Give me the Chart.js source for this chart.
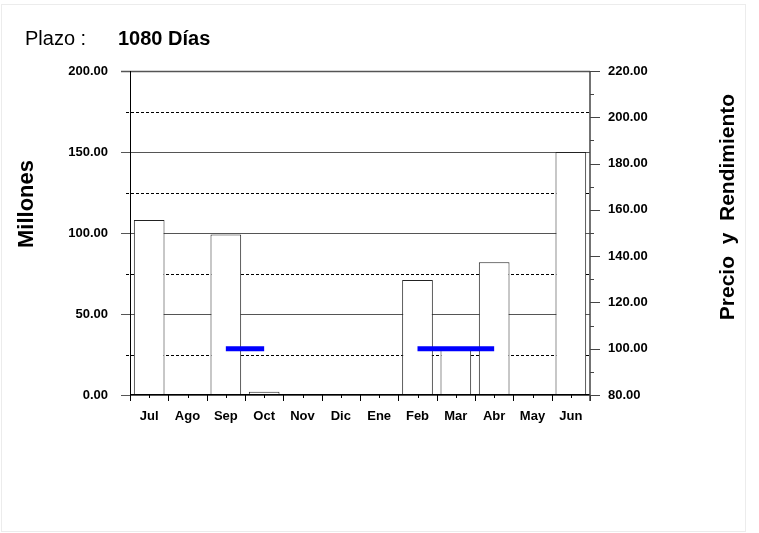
<!DOCTYPE html>
<html>
<head>
<meta charset="utf-8">
<title>Plazo 1080 Días</title>
<script src="https://cdn.jsdelivr.net/npm/chart.js@4.4.0/dist/chart.umd.min.js"></script>
<style>
  html, body { margin: 0; padding: 0; background: #fff; }
  #wrap { width: 759px; height: 533px; position: relative; }
</style>
</head>
<body>
<div id="wrap"><canvas id="grafico" width="759" height="533"></canvas></div>
<script>
// Datos
const meses = ["Jul", "Ago", "Sep", "Oct", "Nov", "Dic", "Ene", "Feb", "Mar", "Abr", "May", "Jun"];
const montos = [108, null, 99, 2, null, null, null, 71, 28, 82, null, 150];   // Millones
const precios = [null, null, 100, 100, null, null, null, 100, 100, 100, null, null];
const ticksMillones = [0, 50, 100, 150, 200];
const ticksPrecio = [80, 100, 120, 140, 160, 180, 200, 220];
const plazoTexto = "1080 Días";

const FUENTE = "'Liberation Sans', Arial, sans-serif";
Chart.defaults.font.family = FUENTE;
Chart.defaults.color = "#000";

// Plugin: rejilla, ejes, marcas y títulos
const marcoPlugin = {
  id: "marco",
  beforeDatasetsDraw(chart) {
    const ctx = chart.ctx;
    const a = chart.chartArea;
    const yL = chart.scales.y;
    ctx.save();
    yL.ticks.forEach(t => {
      const mayor = t.value % 50 === 0;
      const py = Math.round(yL.getPixelForValue(t.value)) + 0.5;
      ctx.beginPath();
      ctx.setLineDash(mayor ? [] : [3, 2]);
      ctx.strokeStyle = mayor ? "#555" : "#000";
      ctx.lineWidth = t.value === 200 ? 1.6 : 1;
      ctx.moveTo(a.left - (mayor ? 9 : 4), py);
      ctx.lineTo(a.right, py);
      ctx.stroke();
    });
    ctx.restore();
  },
  afterDatasetsDraw(chart) {
    const ctx = chart.ctx;
    const a = chart.chartArea;
    const xs = chart.scales.x;
    const yR = chart.scales.y1;
    ctx.save();
    ctx.setLineDash([]);
    ctx.lineWidth = 1;

    // eje izquierdo y eje inferior
    ctx.strokeStyle = "#000";
    ctx.beginPath();
    ctx.moveTo(a.left + 0.5, a.top);
    ctx.lineTo(a.left + 0.5, a.bottom);
    ctx.moveTo(a.left, a.bottom - 0.5);
    ctx.lineTo(a.right, a.bottom - 0.5);
    ctx.stroke();

    // marcas del eje x (bordes y centros de categoría)
    ctx.beginPath();
    for (let i = 0; i <= meses.length; i++) {
      const px = Math.round(xs.getPixelForValue(i - 0.5)) + 0.5;
      ctx.moveTo(px, a.bottom);
      ctx.lineTo(px, a.bottom + 6);
      if (i < meses.length) {
        const pc = Math.round(xs.getPixelForValue(i)) + 0.5;
        ctx.moveTo(pc, a.bottom);
        ctx.lineTo(pc, a.bottom + 3);
      }
    }
    ctx.stroke();

    // eje derecho
    ctx.strokeStyle = "#444";
    ctx.lineWidth = 1.5;
    ctx.beginPath();
    ctx.moveTo(a.right, a.top);
    ctx.lineTo(a.right, a.bottom + 6);
    ctx.stroke();
    ctx.lineWidth = 1;
    ctx.beginPath();
    for (let v = yR.min; v <= yR.max; v += 10) {
      const py = Math.round(yR.getPixelForValue(v)) + 0.5;
      ctx.moveTo(a.right, py);
      ctx.lineTo(a.right + (v % 20 === 0 ? 10 : 4), py);
    }
    ctx.stroke();
    ctx.restore();
  },
  afterDraw(chart) {
    const ctx = chart.ctx;
    ctx.save();
    // marco exterior tenue
    ctx.strokeStyle = "#ececec";
    ctx.lineWidth = 1;
    ctx.strokeRect(1.5, 4.5, 744, 527);

    // encabezado
    ctx.fillStyle = "#000";
    ctx.textBaseline = "alphabetic";
    ctx.textAlign = "left";
    ctx.font = "20px " + FUENTE;
    ctx.fillText("Plazo :", 25, 45);
    ctx.font = "bold 20px " + FUENTE;
    ctx.fillText(plazoTexto, 118, 45);

    // títulos de ejes
    ctx.font = "bold 22px " + FUENTE;
    ctx.textAlign = "center";
    ctx.save();
    ctx.translate(32.5, 204);
    ctx.rotate(-Math.PI / 2);
    ctx.fillText("Millones", 0, 0);
    ctx.restore();
    ctx.font = "bold 21px " + FUENTE;
    ctx.save();
    ctx.translate(733.5, 207);
    ctx.rotate(-Math.PI / 2);
    ctx.fillText("Precio  y  Rendimiento", 0, 0);
    ctx.restore();
    ctx.restore();
  }
};

const ctxGrafico = document.getElementById("grafico").getContext("2d");

new Chart(ctxGrafico, {
  data: {
    labels: meses,
    datasets: [
      {
        type: "line",
        label: "Precio",
        data: precios,
        yAxisID: "y1",
        borderColor: "#0000ff",
        borderWidth: 5,
        pointRadius: 0,
        tension: 0,
        spanGaps: false,
        order: 0
      },
      {
        type: "bar",
        label: "Millones",
        data: montos,
        yAxisID: "y",
        backgroundColor: "#ffffff",
        borderColor: "#222",
        borderWidth: 1,
        borderSkipped: "start",
        categoryPercentage: 0.8,
        barPercentage: 1,
        order: 1
      }
    ]
  },
  options: {
    responsive: false,
    animation: false,
    devicePixelRatio: 1,
    layout: { padding: { top: 71, left: 0, right: 0, bottom: 0 } },
    plugins: {
      legend: { display: false },
      tooltip: { enabled: false },
      title: { display: false }
    },
    scales: {
      x: {
        type: "category",
        offset: true,
        grid: { display: false, drawTicks: false },
        border: { display: false },
        ticks: {
          font: { size: 13, weight: "bold" },
          color: "#000",
          padding: 14,
          maxRotation: 0,
          autoSkip: false
        },
        afterFit(scale) { scale.height = 138; }
      },
      y: {
        type: "linear",
        position: "left",
        min: 0,
        max: 200,
        grid: { display: false, drawTicks: false },
        border: { display: false },
        ticks: {
          stepSize: 25,
          autoSkip: false,
          padding: 22,
          font: { size: 13, weight: "bold" },
          color: "#000",
          callback: v => ticksMillones.includes(v) ? v.toFixed(2) : ""
        },
        afterFit(scale) { scale.width = 130; }
      },
      y1: {
        type: "linear",
        position: "right",
        min: 80,
        max: 220,
        grid: { display: false, drawTicks: false },
        border: { display: false },
        ticks: {
          stepSize: 10,
          autoSkip: false,
          padding: 18,
          font: { size: 13, weight: "bold" },
          color: "#000",
          callback: v => ticksPrecio.includes(v) ? v.toFixed(2) : ""
        },
        afterFit(scale) { scale.width = 169; }
      }
    }
  },
  plugins: [marcoPlugin]
});
</script>
</body>
</html>
